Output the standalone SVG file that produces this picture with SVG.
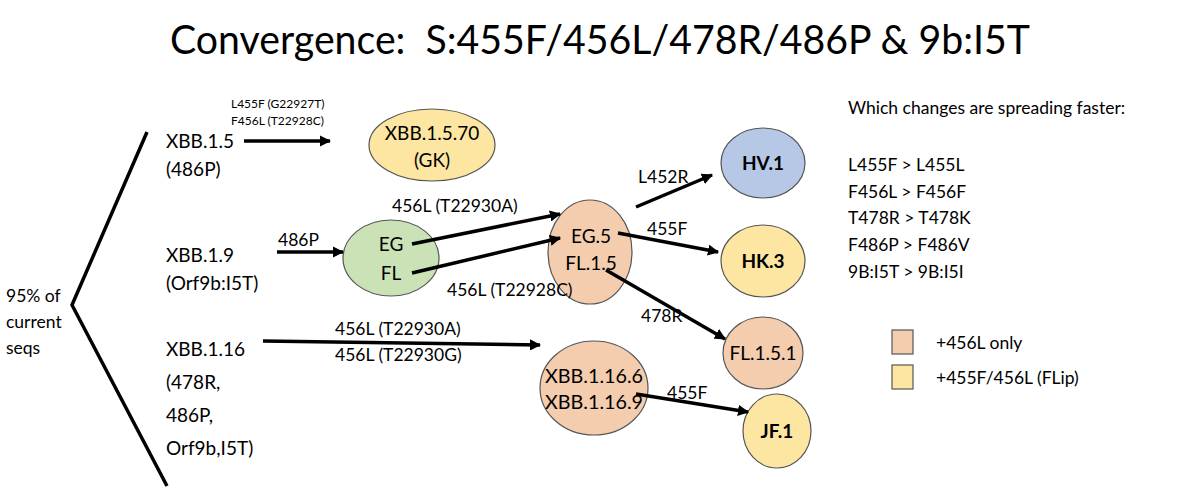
<svg xmlns="http://www.w3.org/2000/svg" width="1200" height="496" viewBox="0 0 1200 496">
<style>
text{font-family:Lato,"Open Sans","Liberation Sans",sans-serif;fill:#000}
.n{stroke:#555;stroke-width:1.2}
.y{fill:#FCE6A2}.s{fill:#F4CCAE}.g{fill:#CBE2B6}.b{fill:#B7C8E6}
.c line{stroke:#000;stroke-width:3.5;marker-end:url(#a)}
.t{font-size:19px}.l{font-size:17.5px}
</style>
<defs><marker id="a" viewBox="0 0 10 10" refX="9" refY="5" markerWidth="3.2" markerHeight="3.2" orient="auto" markerUnits="strokeWidth"><path d="M0,0L10,5L0,10z" fill="#000"/></marker></defs>
<rect width="1200" height="496" fill="#fff"/>
<text x="170" y="54" font-size="41" textLength="860" lengthAdjust="spacingAndGlyphs" xml:space="preserve">Convergence:  S:455F/456L/478R/486P &amp; 9b:I5T</text>
<polyline points="147,132 72,305 167,486" fill="none" stroke="#000" stroke-width="3.5"/>
<g id="root"><text class="l" x="6" y="302">95% of</text><text class="l" x="6" y="328">current</text><text class="l" x="6" y="354">seqs</text></g>
<g id="xbb15"><text class="t" x="166" y="148">XBB.1.5</text><text class="t" x="166" y="176">(486P)</text></g>
<g id="xbb19"><text class="t" x="166" y="262">XBB.1.9</text><text class="t" x="166" y="290">(Orf9b:I5T)</text></g>
<g id="xbb116"><text class="t" x="166" y="356">XBB.1.16</text><text class="t" x="166" y="389">(478R,</text><text class="t" x="166" y="422">486P,</text><text class="t" x="166" y="455">Orf9b,I5T)</text></g>
<g id="gk"><ellipse class="n y" cx="432" cy="145" rx="63" ry="36"/><text class="t" x="432" y="140" text-anchor="middle">XBB.1.5.70</text><text class="t" x="432" y="167" text-anchor="middle">(GK)</text></g>
<g id="egfl"><ellipse class="n g" cx="391" cy="258" rx="48" ry="38"/><text class="t" x="391" y="251" text-anchor="middle">EG</text><text class="t" x="391" y="280" text-anchor="middle">FL</text></g>
<g id="eg5"><ellipse class="n s" cx="590" cy="252" rx="42" ry="52"/><text class="t" x="591" y="243" text-anchor="middle">EG.5</text><text class="t" x="591" y="270" text-anchor="middle">FL.1.5</text></g>
<g id="hv1"><ellipse class="n b" cx="763" cy="163" rx="42" ry="35"/><text class="t" x="763" y="170" text-anchor="middle" font-weight="bold">HV.1</text></g>
<g id="hk3"><ellipse class="n y" cx="763" cy="261" rx="42" ry="36"/><text class="t" x="763" y="268" text-anchor="middle" font-weight="bold">HK.3</text></g>
<g id="fl151"><ellipse class="n s" cx="763" cy="353" rx="40" ry="36"/><text class="t" x="763" y="360" text-anchor="middle">FL.1.5.1</text></g>
<g id="xbb1166"><ellipse class="n s" cx="594" cy="388" rx="54" ry="47"/><text class="t" x="594" y="383" text-anchor="middle" textLength="98" lengthAdjust="spacingAndGlyphs">XBB.1.16.6</text><text class="t" x="594" y="409" text-anchor="middle" textLength="98" lengthAdjust="spacingAndGlyphs">XBB.1.16.9</text></g>
<g id="jf1"><ellipse class="n y" cx="777" cy="431" rx="34" ry="37"/><text class="t" x="777" y="438" text-anchor="middle" font-weight="bold">JF.1</text></g>
<g class="c" id="connectors">
<line x1="244" y1="141" x2="330" y2="141"/>
<line x1="277" y1="252" x2="343" y2="252"/>
<line x1="412" y1="244" x2="560" y2="214"/>
<line x1="412" y1="273" x2="560" y2="238"/>
<line x1="263" y1="341" x2="540" y2="345"/>
<line x1="636" y1="207" x2="712" y2="175"/>
<line x1="618" y1="233" x2="718" y2="252"/>
<line x1="606" y1="270" x2="725" y2="339"/>
<line x1="636" y1="394" x2="748" y2="412"/>
</g>
<g id="labels">
<text font-size="12" x="231" y="108">L455F (G22927T)</text>
<text font-size="12" x="231" y="125">F456L (T22928C)</text>
<text class="l" x="278" y="246">486P</text>
<text class="l" x="392" y="212">456L (T22930A)</text>
<text class="l" x="447" y="296">456L (T22928C)</text>
<text class="l" x="335" y="335">456L (T22930A)</text>
<text class="l" x="335" y="361">456L (T22930G)</text>
<text class="l" x="638" y="183">L452R</text>
<text class="l" x="647" y="235">455F</text>
<text class="l" x="641" y="322">478R</text>
<text class="l" x="667" y="399">455F</text>
</g>
<g id="notes">
<text class="l" x="848" y="114">Which changes are spreading faster:</text>
<text class="l" x="848" y="171">L455F &gt; L455L</text>
<text class="l" x="848" y="198">F456L &gt; F456F</text>
<text class="l" x="848" y="224">T478R &gt; T478K</text>
<text class="l" x="848" y="251">F486P &gt; F486V</text>
<text class="l" x="848" y="278">9B:I5T &gt; 9B:I5I</text>
</g>
<g id="legend">
<rect class="n s" x="892" y="330" width="21" height="24"/><text class="l" x="936" y="349">+456L only</text>
<rect class="n y" x="892" y="365" width="21" height="24"/><text class="l" x="936" y="384">+455F/456L (FLip)</text>
</g>
</svg>
